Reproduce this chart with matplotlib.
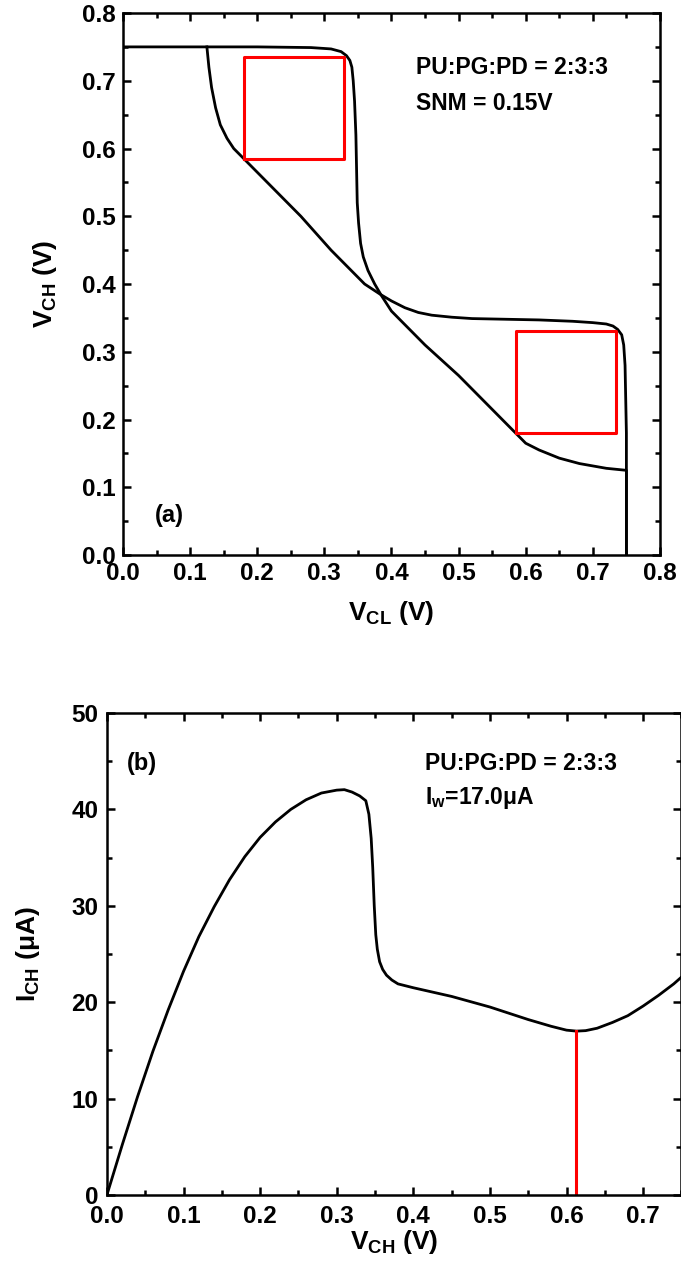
import matplotlib
matplotlib.use("Agg")
import matplotlib.pyplot as plt
from matplotlib.ticker import MultipleLocator

plt.rcParams['font.family'] = ['Liberation Sans', 'DejaVu Sans']
plt.rcParams['font.weight'] = 'bold'
plt.rcParams['mathtext.default'] = 'regular'

# (a) butterfly curves, V_CH vs V_CL
vcl_1 = [0.0, 0.2, 0.28, 0.31, 0.325, 0.333, 0.338, 0.341, 0.343, 0.345, 0.347, 0.348,
         0.349, 0.351, 0.354, 0.358, 0.365, 0.375, 0.385, 0.40, 0.42, 0.45, 0.50, 0.55,
         0.585, 0.60, 0.62, 0.65, 0.68, 0.72, 0.75, 0.75]
vch_1 = [0.75, 0.75, 0.749, 0.747, 0.743, 0.737, 0.73, 0.72, 0.70, 0.67, 0.62, 0.57,
         0.52, 0.49, 0.46, 0.44, 0.42, 0.40, 0.383, 0.36, 0.34, 0.31, 0.265, 0.215,
         0.18, 0.165, 0.155, 0.143, 0.135, 0.128, 0.125, 0.0]
vcl_2 = [0.125, 0.128, 0.132, 0.138, 0.145, 0.155, 0.165, 0.18, 0.215, 0.265, 0.31,
         0.34, 0.36, 0.383, 0.40, 0.42, 0.44, 0.46, 0.49, 0.52, 0.57, 0.62, 0.67, 0.70,
         0.72, 0.73, 0.737, 0.743, 0.746, 0.748, 0.749, 0.75, 0.75]
vch_2 = [0.75, 0.72, 0.69, 0.66, 0.635, 0.615, 0.60, 0.585, 0.55, 0.50, 0.45,
         0.42, 0.40, 0.385, 0.375, 0.365, 0.358, 0.354, 0.351, 0.349, 0.348, 0.347, 0.345, 0.343,
         0.341, 0.338, 0.333, 0.325, 0.31, 0.28, 0.23, 0.18, 0.0]
# SNM squares: (x0, y0, x1, y1)
snm_boxes = [(0.18, 0.585, 0.33, 0.735), (0.585, 0.18, 0.735, 0.33)]

# (b) I_CH vs V_CH
vch_b = [0.0, 0.02, 0.04, 0.06, 0.08, 0.1, 0.12, 0.14, 0.16, 0.18, 0.2, 0.22, 0.24,
         0.26, 0.28, 0.30, 0.31, 0.32, 0.33, 0.338, 0.342, 0.345, 0.347, 0.349, 0.351,
         0.353, 0.356, 0.36, 0.365, 0.372, 0.38, 0.39, 0.40, 0.45, 0.50, 0.55, 0.58,
         0.60, 0.613, 0.625, 0.64, 0.66, 0.68, 0.70, 0.72, 0.74, 0.75]
ich_b = [0.0, 5.2, 10.2, 14.9, 19.2, 23.2, 26.8, 29.9, 32.7, 35.1, 37.1, 38.7, 40.0,
         41.0, 41.7, 42.0, 42.05, 41.8, 41.4, 40.9, 39.5, 37.0, 34.0, 30.0, 27.0,
         25.5, 24.2, 23.4, 22.8, 22.3, 21.9, 21.7, 21.5, 20.6, 19.5, 18.2, 17.5,
         17.1, 17.0, 17.05, 17.3, 17.9, 18.6, 19.6, 20.7, 21.9, 22.6]
iw_v = 0.613
iw_i = 17.0

fig = plt.figure(figsize=(6.81, 12.64), dpi=100)
ax1 = fig.add_axes([0.1806, 0.5609, 0.7885, 0.4288])
ax2 = fig.add_axes([0.157, 0.0546, 0.8436, 0.3813])


def style(ax, xmaj, xmin, ymaj, ymin):
    ax.xaxis.set_major_locator(MultipleLocator(xmaj))
    ax.xaxis.set_minor_locator(MultipleLocator(xmin))
    ax.yaxis.set_major_locator(MultipleLocator(ymaj))
    ax.yaxis.set_minor_locator(MultipleLocator(ymin))
    ax.tick_params(which='both', direction='in', top=True, right=True, width=1.8)
    ax.tick_params(which='major', length=6, labelsize=17.5, pad=5)
    ax.tick_params(which='minor', length=3.5)
    for s in ax.spines.values():
        s.set_linewidth(1.8)


ax1.plot(vcl_1, vch_1, color='black', lw=2.0)
ax1.plot(vcl_2, vch_2, color='black', lw=2.0)
for x0, y0, x1, y1 in snm_boxes:
    ax1.plot([x0, x1, x1, x0, x0], [y0, y0, y1, y1, y0], color='#ff0000', lw=2.2)
ax1.set_xlim(0, 0.8)
ax1.set_ylim(0, 0.8)
style(ax1, 0.1, 0.05, 0.1, 0.05)
ax1.set_xlabel('$V_{CL}$ (V)', fontsize=19, fontweight='bold', labelpad=10)
ax1.set_ylabel('$V_{CH}$ (V)', fontsize=19, fontweight='bold', labelpad=17)
ax1.text(0.437, 0.719, 'PU:PG:PD = 2:3:3', fontsize=16.5, fontweight='bold', va='center')
ax1.text(0.437, 0.667, 'SNM = 0.15V', fontsize=16.5, fontweight='bold', va='center')
ax1.text(0.048, 0.059, '(a)', fontsize=17, fontweight='bold', va='center')

ax2.plot(vch_b, ich_b, color='black', lw=2.0)
ax2.plot([iw_v, iw_v], [0, iw_i], color='#ff0000', lw=2.2)
ax2.set_xlim(0, 0.75)
ax2.set_ylim(0, 50)
style(ax2, 0.1, 0.05, 10, 5)
ax2.tick_params(axis='x', which='major', pad=7)
ax2.tick_params(axis='y', which='major', pad=6)
ax2.set_xlabel('$V_{CH}$ (V)', fontsize=19, fontweight='bold', labelpad=0)
ax2.set_ylabel('$I_{CH}$ (μA)', fontsize=19, fontweight='bold', labelpad=21)
ax2.text(0.026, 44.8, '(b)', fontsize=17, fontweight='bold', va='center')
ax2.text(0.415, 44.8, 'PU:PG:PD = 2:3:3', fontsize=16.5, fontweight='bold', va='center')
ax2.text(0.415, 41.2, '$I_w$=17.0μA', fontsize=16.5, fontweight='bold', va='center')

fig.savefig('out.png', dpi=100)
